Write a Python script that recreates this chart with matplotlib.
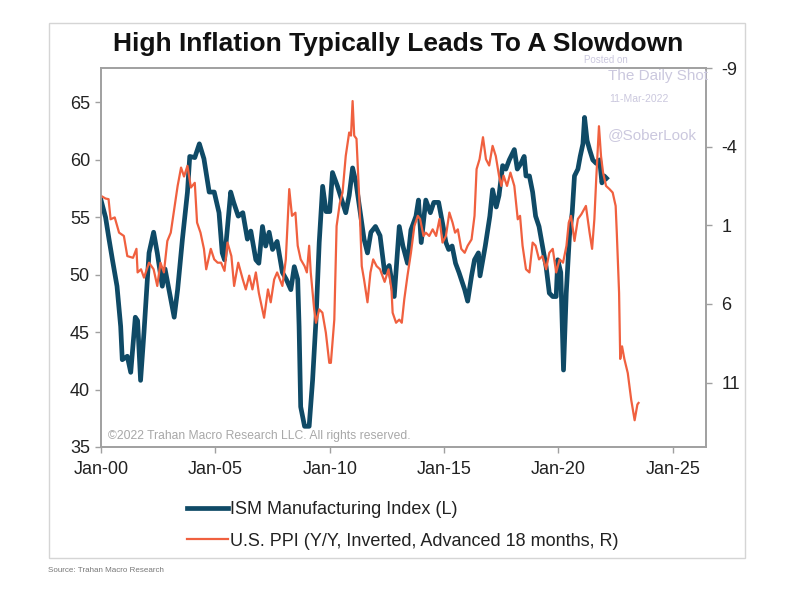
import matplotlib
matplotlib.use('Agg')
import matplotlib.pyplot as plt
from matplotlib.lines import Line2D
from matplotlib.patches import Rectangle

plt.rcParams['font.family'] = ['Liberation Sans', 'DejaVu Sans']
plt.rcParams['axes.unicode_minus'] = False

# ISM Manufacturing Index (left axis)
ism_dates = [2000.0, 2000.2, 2000.35, 2000.5, 2000.7, 2000.86, 2000.93, 2001.15, 2001.3, 2001.5, 2001.6, 2001.73, 2001.88,
             2002.1, 2002.3, 2002.46, 2002.68, 2002.8, 2003.0, 2003.2, 2003.35, 2003.56, 2003.78, 2003.88,
             2004.1, 2004.3, 2004.5, 2004.73, 2004.95, 2005.16, 2005.3, 2005.4, 2005.67, 2005.8,
             2006.0, 2006.2, 2006.4, 2006.55, 2006.77, 2006.9, 2007.06, 2007.2, 2007.35, 2007.5, 2007.7, 2007.93,
             2008.1, 2008.3, 2008.45, 2008.6, 2008.66, 2008.73, 2008.9, 2009.1, 2009.25, 2009.4, 2009.54, 2009.69, 2009.84,
             2010.0, 2010.12, 2010.34, 2010.56, 2010.7, 2010.85, 2011.0, 2011.15, 2011.36, 2011.5, 2011.65, 2011.8,
             2012.0, 2012.2, 2012.4, 2012.6, 2012.82, 2013.04, 2013.2, 2013.4, 2013.55, 2013.77, 2013.88,
             2014.0, 2014.2, 2014.4, 2014.55, 2014.76, 2014.93, 2015.08, 2015.2, 2015.35, 2015.5, 2015.65, 2015.9,
             2016.03, 2016.2, 2016.33, 2016.5, 2016.57, 2016.8, 2017.0, 2017.12, 2017.28, 2017.4, 2017.56, 2017.7, 2017.85,
             2018.07, 2018.2, 2018.36, 2018.5, 2018.58, 2018.73, 2018.87, 2019.0, 2019.15, 2019.3, 2019.46, 2019.6, 2019.75, 2019.9, 2019.97,
             2020.1, 2020.22, 2020.34, 2020.48, 2020.6, 2020.7, 2020.85, 2020.95, 2021.07, 2021.14, 2021.25, 2021.36, 2021.5,
             2021.65, 2021.8, 2021.9, 2022.0, 2022.1]
ism_values = [56.5, 55.0, 53.1, 51.3, 49.0, 45.5, 42.6, 42.9, 41.5, 46.3, 46.0, 40.8, 45.0,
              51.9, 53.7, 51.9, 49.0, 50.5, 48.4, 46.3, 48.7, 53.1, 57.2, 60.3,
              60.2, 61.4, 60.1, 57.2, 57.2, 55.4, 51.9, 51.3, 57.2, 56.3,
              55.1, 55.4, 53.1, 53.8, 51.3, 51.0, 54.2, 52.5, 53.7, 52.2, 52.9, 50.2,
              49.6, 48.7, 50.7, 49.6, 45.5, 38.5, 36.8, 36.8, 40.8, 46.1, 52.8, 57.7, 55.5,
              55.5, 58.9, 57.7, 56.3, 55.4, 56.9, 59.3, 58.0, 55.1, 53.1, 51.9, 53.7,
              54.2, 53.4, 50.2, 50.8, 48.1, 54.2, 52.5, 51.0, 53.9, 55.1, 56.5,
              52.8, 56.5, 55.4, 56.3, 56.3, 54.5, 52.8, 52.2, 52.5, 51.0, 50.2, 48.7,
              47.7, 49.9, 51.3, 51.9, 49.9, 52.5, 55.1, 57.4, 55.9, 56.9, 59.5, 59.2, 60.0,
              60.9, 59.2, 59.7, 60.3, 58.6, 58.6, 57.2, 55.1, 54.2, 52.5, 50.7, 48.4, 48.1, 48.1, 51.3,
              50.2, 41.7, 48.4, 53.4, 55.4, 58.6, 59.2, 60.3, 61.4, 63.7, 61.7, 60.9, 60.0,
              59.7, 60.0, 58.0, 58.6, 58.4]

# U.S. PPI y/y, inverted, advanced 18 months (right axis)
ppi_dates = [2000.0, 2000.2, 2000.33, 2000.42, 2000.6, 2000.79, 2001.0, 2001.15, 2001.4, 2001.55, 2001.6, 2001.75, 2001.88,
             2002.1, 2002.3, 2002.46, 2002.6, 2002.75, 2002.9, 2003.05, 2003.2, 2003.35, 2003.5, 2003.63, 2003.78, 2003.93,
             2004.1, 2004.2, 2004.35, 2004.5, 2004.6, 2004.8, 2004.95, 2005.1, 2005.25, 2005.4, 2005.53, 2005.7, 2005.82,
             2006.0, 2006.2, 2006.33, 2006.48, 2006.62, 2006.77, 2006.9, 2007.13, 2007.3, 2007.42, 2007.57, 2007.7, 2007.93,
             2008.08, 2008.23, 2008.35, 2008.5, 2008.6, 2008.73, 2008.9, 2009.0, 2009.1, 2009.17, 2009.32, 2009.4, 2009.54,
             2009.68, 2009.83, 2009.98,
             2010.05, 2010.2, 2010.3, 2010.44, 2010.56, 2010.7, 2010.85, 2010.93, 2011.0, 2011.07, 2011.17, 2011.3, 2011.4,
             2011.5, 2011.65, 2011.78, 2011.9,
             2012.05, 2012.2, 2012.4, 2012.57, 2012.7, 2012.75, 2012.9, 2013.04, 2013.15, 2013.26, 2013.4, 2013.55, 2013.7,
             2013.85, 2013.95,
             2014.1, 2014.2, 2014.35, 2014.5, 2014.65, 2014.8, 2014.93, 2015.08, 2015.23, 2015.37, 2015.48, 2015.6, 2015.75, 2015.9,
             2016.03, 2016.2, 2016.33, 2016.42, 2016.55, 2016.7, 2016.83, 2016.97, 2017.12, 2017.26, 2017.4, 2017.5, 2017.6,
             2017.75, 2017.9,
             2018.07, 2018.22, 2018.32, 2018.43, 2018.58, 2018.73, 2018.87, 2019.0, 2019.15, 2019.3, 2019.46, 2019.6, 2019.75, 2019.9,
             2020.05, 2020.2, 2020.35, 2020.45, 2020.55, 2020.7, 2020.85, 2021.0, 2021.2, 2021.36, 2021.47, 2021.57, 2021.65,
             2021.77, 2021.86, 2021.95, 2022.08, 2022.23, 2022.37, 2022.5, 2022.55, 2022.65, 2022.7, 2022.78, 2022.88,
             2023.03, 2023.18, 2023.33, 2023.45, 2023.5]
ppi_values = [-0.87, -0.7, -0.66, 0.62, 0.5, 1.47, 1.68, 2.96, 3.07, 2.5, 4.0, 3.8, 4.33,
              3.38, 3.8, 4.86, 3.38, 4.0, 2.0, 1.47, -0.02, -1.5, -2.67, -2.1, -2.78, -1.4,
              -1.7, 0.83, 1.47, 2.5, 3.8, 2.5, 3.17, 3.38, 3.38, 3.9, 2.1, 2.96, 4.86,
              3.38, 4.45, 5.08, 4.2, 5.08, 4.0, 5.3, 6.88, 5.08, 5.9, 4.45, 4.0, 4.86,
              3.17, -1.3, 0.4, 0.2, 2.3, 3.17, 3.6, 4.0, 2.3, 4.0, 6.35, 7.2, 6.35,
              6.56, 7.83, 9.75,
              9.75, 7.0, 1.05, -0.4, -1.08, -3.41, -4.9, -4.7, -6.9, -4.7, -4.5, -0.4, 3.6,
              4.45, 5.9, 4.0, 3.17,
              3.6, 3.8, 4.6, 3.8, 5.08, 6.56, 7.2, 7.0, 7.2, 5.7, 4.2, 2.75, 1.05,
              0.4, 0.6,
              1.68, 1.47, 1.68, 1.26, 1.68, 0.6, 2.1, 1.68, 0.19, 0.83, 1.47, 1.26, 2.5, 2.75,
              2.3, 1.9, 0.4, -2.57, -3.2, -4.6, -3.2, -2.8, -4.05, -3.4, -2.16, -1.5, -2.16,
              -1.5, -2.35,
              -1.5, 0.62, 0.4, 2.3, 3.8, 4.0, 2.1, 2.3, 3.17, 2.96, 3.8, 2.75, 2.5, 4.0,
              3.17, 3.38, 2.3, 0.83, 0.4, 2.0, 0.6, 0.3, -0.23, 1.47, 2.5, 0.6, -1.93,
              -5.3, -3.4, -2.35, -1.5, -1.3, -1.08, -0.23, 1.47, 5.3, 9.5, 8.7, 9.5,
              10.4, 12.1, 13.4, 12.4, 12.3]

x_ticks = [2000, 2005, 2010, 2015, 2020, 2025]
x_labels = ['Jan-00', 'Jan-05', 'Jan-10', 'Jan-15', 'Jan-20', 'Jan-25']
left_ticks = [35, 40, 45, 50, 55, 60, 65]
right_ticks = [-9, -4, 1, 6, 11]

ISM_COLOR = '#0F4A66'
PPI_COLOR = '#F0603F'
SPINE_COLOR = '#A0A0A0'
TEXT_COLOR = '#222222'
WM_COLOR = '#CBC8DE'

fig = plt.figure(figsize=(8, 5.91), dpi=100)
ax = fig.add_axes([0.12625, 0.2437, 0.75625, 0.6412])
ax2 = ax.twinx()

ax.plot(ism_dates, ism_values, color=ISM_COLOR, linewidth=3.4, solid_joinstyle='round')
ax2.plot(ppi_dates, ppi_values, color=PPI_COLOR, linewidth=1.6, solid_joinstyle='round')

ax.set_xlim(2000, 2026.45)
ax.set_ylim(35, 68)
ax2.set_ylim(15.1, -9)

ax.set_xticks(x_ticks)
ax.set_xticklabels(x_labels)
ax.set_yticks(left_ticks)
ax2.set_yticks(right_ticks)

for a in (ax, ax2):
    for s in a.spines.values():
        s.set_color(SPINE_COLOR)
        s.set_linewidth(1.2)
ax.tick_params(axis='both', colors=SPINE_COLOR, labelcolor=TEXT_COLOR, labelsize=13,
               length=4, width=1)
ax.tick_params(axis='y', pad=4)
ax.tick_params(axis='x', pad=6)
ax2.tick_params(axis='y', colors=SPINE_COLOR, labelcolor=TEXT_COLOR, labelsize=13,
                length=4, width=1, pad=7)

# title
fig.text(0.4975, 0.925, 'High Inflation Typically Leads To A Slowdown', ha='center', va='center',
         fontsize=19, fontweight='bold', color='#111111')

# watermark
fig.text(606 / 800, 1 - 60 / 591, 'Posted on', ha='center', va='center', fontsize=7, color=WM_COLOR)
fig.text(608 / 800, 1 - 76 / 591, 'The Daily Shot', ha='left', va='center', fontsize=11, color=WM_COLOR)
fig.text(609 / 800, 1 - 99 / 591, '11-Mar-2022', ha='left', va='center', fontsize=7.5, color=WM_COLOR)
fig.text(608 / 800, 1 - 135 / 591, '@SoberLook', ha='left', va='center', fontsize=11, color=WM_COLOR)

# copyright inside plot
fig.text(108 / 800, 1 - 436 / 591, '\u00a92022 Trahan Macro Research LLC. All rights reserved.',
         ha='left', va='center', fontsize=8.7, color='#A8A8A8')

# legend
handles = [Line2D([], [], color=ISM_COLOR, linewidth=3.4),
           Line2D([], [], color=PPI_COLOR, linewidth=1.6)]
labels = ['ISM Manufacturing Index (L)', 'U.S. PPI (Y/Y, Inverted, Advanced 18 months, R)']
fig.legend(handles, labels, loc='upper left', bbox_to_anchor=(171 / 800, 1 - 485 / 591),
           frameon=False, fontsize=13, handlelength=2.25, handletextpad=0.1,
           labelspacing=0.8, labelcolor=TEXT_COLOR)

# outer frame
fig.add_artist(Rectangle((49 / 800, 1 - 558 / 591), 696 / 800, 535 / 591,
                         transform=fig.transFigure, fill=False, edgecolor='#D5D5D5', linewidth=1))

fig.text(48 / 800, 1 - 571 / 591, 'Source: Trahan Macro Research', ha='left', va='center',
         fontsize=5.8, color='#777777')

fig.savefig('out.png', dpi=100)
